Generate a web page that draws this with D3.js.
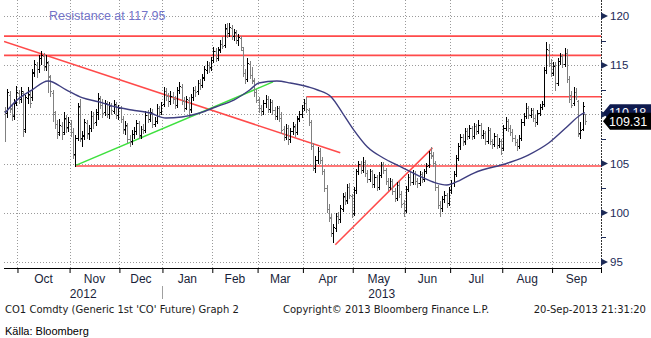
<!DOCTYPE html>
<html>
<head>
<meta charset="utf-8">
<script src="https://cdn.jsdelivr.net/npm/d3@7"></script>
<style>
  html, body { margin: 0; padding: 0; background: #fff; }
  svg { display: block; }
  text { font-family: "Liberation Sans", Arial, sans-serif; }
  text.footer { font-family: "DejaVu Sans", Verdana, sans-serif; font-size: 10px; }
</style>
</head>
<body>
<svg id="chart" width="651" height="338"></svg>
<script>
// ---- Trading calendar (ICE Brent front month, CO1) ----
const firstDay = "2012-09-21";
const lastDay = "2013-09-20";
const holidays = ["2012-12-25", "2012-12-26", "2013-01-01", "2013-03-29"];

// ---- Daily OHLC, one value per trading day ----
const opens = [
  110.3,110.1,112.0,110.6,109.8,111.2,112.2,111.6,112.2,108.5,
  111.7,112.0,111.8,114.3,115.0,114.6,115.7,115.9,114.9,115.2,
  113.8,112.2,110.0,109.0,108.2,108.8,108.2,109.5,108.7,109.0,
  108.2,106.0,107.6,110.8,107.6,107.9,109.1,108.1,108.6,109.8,
  109.2,110.0,111.6,111.0,110.2,111.1,110.0,110.9,110.3,111.0,
  109.9,110.6,109.5,108.5,108.8,107.5,107.3,108.0,108.3,109.1,
  107.9,108.5,108.4,109.9,109.5,110.1,109.0,109.3,110.6,110.2,
  111.1,112.4,111.9,111.4,111.9,111.6,111.0,112.5,112.8,111.4,
  110.7,111.5,110.5,111.8,112.5,112.4,113.2,113.0,113.7,114.5,
  115.0,114.8,115.5,116.4,115.7,116.5,117.2,117.1,118.7,118.3,
  118.8,118.0,118.3,117.6,117.8,116.5,114.2,113.6,115.1,114.0,
  113.4,112.3,111.5,110.6,110.3,111.2,111.6,110.5,111.3,110.4,
  109.8,110.6,109.6,108.5,107.7,108.6,107.5,108.3,108.7,108.2,
  109.6,110.0,110.7,111.2,110.4,109.2,106.8,104.6,105.4,106.3,
  105.4,104.2,102.5,100.4,99.6,97.9,98.5,99.7,99.4,100.4,
  101.6,101.3,102.6,101.7,100.0,102.3,104.2,105.0,104.3,105.2,
  104.0,103.4,104.2,102.9,103.6,102.6,103.8,104.9,104.3,103.2,
  102.6,103.2,102.2,101.5,102.8,101.9,101.0,100.3,102.4,103.6,
  103.1,104.0,103.2,103.0,103.9,103.4,104.2,104.9,106.1,105.8,
  105.1,102.6,100.8,100.5,101.4,101.8,101.0,102.3,103.0,103.9,
  105.6,106.8,107.7,107.3,108.3,107.8,108.6,107.8,108.8,108.3,
  108.9,107.9,108.1,107.3,108.4,107.3,107.0,107.8,106.9,107.3,
  106.6,108.6,109.3,108.6,108.2,107.6,107.2,106.8,107.6,109.2,
  109.8,110.6,109.9,110.4,109.6,109.2,110.1,110.8,111.1,114.5,
  116.5,115.2,114.2,115.0,113.2,115.4,115.9,115.1,116.2,113.6,
  112.0,111.2,112.3,111.4,108.1,108.5,110.0
];
const highs = [
  110.8,112.6,112.4,111.0,111.6,112.9,112.5,112.8,112.4,112.0,
  112.8,112.3,114.6,115.5,115.3,116.0,116.4,116.2,116.0,115.4,
  114.0,112.5,110.3,109.4,109.5,109.2,110.2,109.9,109.7,109.4,
  108.6,107.9,111.2,111.6,108.3,109.5,109.4,108.9,110.3,110.2,
  110.5,112.2,111.9,111.6,111.5,111.4,111.3,111.2,111.5,111.3,
  111.0,110.9,109.8,109.3,109.1,107.9,108.4,108.7,109.4,109.3,
  108.8,109.0,110.3,110.4,110.7,110.5,109.7,111.1,110.9,111.3,
  112.8,112.7,112.2,112.4,112.3,111.9,112.8,113.3,113.1,111.8,
  111.9,111.8,112.1,112.8,112.9,113.5,113.6,114.1,114.9,115.4,
  115.3,115.8,116.8,116.7,116.9,117.6,117.9,119.2,119.3,119.3,
  119.1,118.7,118.6,118.2,118.0,116.8,114.6,115.7,115.4,114.8,
  113.7,112.6,111.8,111.0,111.5,112.0,111.9,111.6,111.5,110.8,
  110.9,110.9,110.2,108.8,109.0,108.9,108.6,109.2,109.0,109.8,
  110.3,111.0,111.6,111.8,110.7,109.4,107.1,105.8,106.7,106.6,
  105.7,104.5,102.8,100.9,99.9,98.9,100.0,100.1,100.8,102.0,
  102.1,102.9,103.0,101.9,102.6,104.5,105.3,105.3,105.7,105.4,
  104.3,104.5,104.4,103.9,103.8,104.1,105.2,105.2,104.6,103.5,
  103.5,103.4,102.5,103.1,103.2,102.2,101.3,102.7,103.9,104.1,
  104.3,104.2,103.5,104.2,104.1,104.5,105.1,106.3,106.7,106.2,
  105.3,102.8,101.2,101.7,102.2,102.0,102.6,103.3,104.2,105.9,
  107.1,108.0,108.0,108.6,108.6,108.9,108.8,109.1,109.0,109.4,
  109.1,108.4,108.3,108.7,108.6,107.5,108.1,108.0,107.6,107.5,
  108.9,109.7,109.5,108.9,108.5,107.9,107.5,107.9,109.5,110.1,
  111.2,110.9,110.7,110.6,109.9,110.4,111.1,111.4,114.8,117.4,
  117.2,115.6,115.3,115.3,115.7,116.2,116.1,116.7,116.6,113.9,
  112.4,112.8,112.7,111.5,109.2,111.3,110.0
];
const lows = [
  107.3,109.7,110.2,109.4,109.5,111.0,111.2,111.3,107.8,108.2,
  111.2,110.8,111.5,113.9,113.8,114.3,115.1,114.5,114.5,112.3,
  111.9,109.3,108.6,107.6,107.9,107.5,108.0,108.2,108.3,107.8,
  105.6,104.8,107.4,107.3,106.8,107.5,107.6,107.5,108.3,108.6,
  108.9,109.5,110.6,109.7,109.9,109.7,109.6,110.0,110.1,109.6,
  109.5,109.2,108.1,108.0,107.2,106.8,107.0,107.6,108.0,107.6,
  107.6,108.1,108.2,109.2,109.3,108.7,108.8,109.1,109.8,110.0,
  110.9,111.5,110.9,111.1,111.2,110.6,110.8,112.2,111.1,110.3,
  110.5,109.7,110.2,111.5,111.9,112.1,112.6,112.8,113.5,114.2,
  114.3,114.5,115.3,115.4,115.5,116.3,116.7,116.9,117.9,118.0,
  117.7,117.6,117.3,117.1,116.5,113.9,113.2,113.4,113.7,113.2,
  111.9,111.3,110.2,109.9,110.0,110.8,110.2,110.2,110.0,109.5,
  109.5,109.3,108.1,107.4,107.5,107.0,107.2,108.0,107.8,108.0,
  109.3,109.7,110.4,110.2,108.9,106.5,104.3,104.1,105.1,105.1,
  103.9,102.2,100.1,99.2,97.6,97.0,98.2,99.0,99.1,100.2,
  100.9,101.0,101.5,99.6,99.8,102.0,103.9,104.0,104.1,103.7,
  103.1,103.2,102.6,102.6,102.3,102.4,103.6,104.0,102.9,102.3,
  102.4,101.9,101.2,101.3,101.6,100.6,99.7,100.1,102.2,102.8,
  102.9,102.9,102.6,102.8,103.1,103.2,104.0,104.7,105.6,104.8,
  102.3,100.5,99.7,100.2,101.1,100.6,100.8,102.0,102.7,103.7,
  105.4,106.5,106.9,107.0,107.5,107.6,107.5,107.6,108.0,108.1,
  107.6,107.6,107.0,107.1,107.0,106.6,106.8,106.6,106.7,106.0,
  106.4,108.4,108.3,107.9,107.3,106.9,106.4,106.6,107.4,108.9,
  109.6,109.6,109.7,109.3,108.8,109.0,109.9,110.5,110.9,114.2,
  114.9,113.9,114.0,112.5,113.0,115.1,114.8,114.9,113.3,111.3,
  110.8,111.0,111.6,107.8,107.6,108.4,109.0
];
const closes = [
  110.1,112.3,110.5,109.9,111.3,112.3,111.6,112.4,108.3,111.8,
  112.1,111.2,114.2,115.1,114.6,115.7,116.0,114.8,115.3,113.9,
  112.4,110.2,109.0,108.0,108.9,108.0,109.6,108.6,109.2,108.2,
  105.9,107.6,110.9,107.5,107.8,109.2,108.0,108.6,109.8,109.1,
  110.2,111.7,111.0,110.1,111.2,110.0,110.9,110.4,111.1,109.9,
  110.7,109.5,108.4,108.9,107.5,107.2,108.0,108.3,109.1,107.8,
  108.5,108.4,109.9,109.5,110.2,109.0,109.3,110.6,110.2,111.0,
  112.4,111.9,111.4,111.9,111.6,111.0,112.5,112.9,111.4,110.7,
  111.6,110.4,111.8,112.5,112.3,113.2,113.0,113.8,114.6,115.0,
  114.7,115.5,116.4,115.7,116.6,117.2,117.0,118.8,118.3,118.9,
  118.0,118.4,117.6,117.9,116.8,114.2,113.6,115.2,114.0,113.5,
  112.3,111.5,110.6,110.3,111.2,111.6,110.5,111.3,110.4,109.8,
  110.6,109.6,108.4,107.7,108.6,107.5,108.3,108.8,108.2,109.5,
  110.0,110.7,111.2,110.5,109.2,106.8,104.6,105.4,106.3,105.4,
  104.2,102.5,100.4,99.5,97.9,98.6,99.7,99.4,100.5,101.7,
  101.2,102.6,101.8,99.9,102.3,104.2,105.0,104.3,105.2,104.0,
  103.4,104.2,102.9,103.6,102.6,103.8,104.9,104.3,103.2,102.6,
  103.2,102.2,101.5,102.8,101.9,100.9,100.2,102.4,103.6,103.1,
  104.0,103.2,103.0,103.9,103.4,104.2,104.8,106.1,105.9,105.1,
  102.6,100.8,100.5,101.4,101.8,101.0,102.3,103.0,103.9,105.6,
  106.8,107.7,107.2,108.3,107.8,108.6,107.8,108.8,108.3,108.9,
  107.9,108.1,107.3,108.4,107.3,107.0,107.8,106.9,107.3,106.6,
  108.6,109.3,108.6,108.2,107.6,107.2,106.8,107.6,109.2,109.8,
  110.6,109.9,110.4,109.6,109.2,110.1,110.8,111.1,114.5,116.6,
  115.2,114.2,114.9,113.2,115.4,115.9,115.1,116.2,113.6,111.6,
  111.0,112.3,111.9,108.0,108.4,110.9,109.31
];

// ---- Moving average, sampled ----
const maDates = [
  "2012-09-21","2012-09-28","2012-10-09","2012-10-18","2012-10-30","2012-11-08",
  "2012-11-20","2012-11-29","2012-12-10","2012-12-20","2013-01-03","2013-01-14",
  "2013-01-24","2013-02-04","2013-02-14","2013-02-25","2013-03-01","2013-03-13",
  "2013-03-21","2013-04-03","2013-04-09","2013-04-17","2013-04-24","2013-05-01",
  "2013-05-09","2013-05-20","2013-05-30","2013-06-10","2013-06-19","2013-06-27",
  "2013-07-05","2013-07-15","2013-08-05","2013-08-16","2013-08-29","2013-09-10",
  "2013-09-18","2013-09-20"
];
const maValues = [
  110.14,111.4,112.5,113.4,112.5,111.7,
  111.25,110.75,110.45,110.14,109.63,109.74,
  110.14,110.75,111.46,112.48,113.19,113.4,
  113.19,112.78,112.48,111.77,110.14,108.41,
  106.69,105.57,104.65,103.84,103.13,102.82,
  103.33,104.04,105.06,105.87,107.09,108.72,
  109.94,110.18
];

// ---- Drawn support / resistance ----
const levelValues = [117.95, 116.0, 111.8, 104.75];
const levelFrom   = [null, null, "2013-04-02", "2012-11-05"];
const trendColors = ["#ff4a4a", "#3ee03e", "#ff4a4a"];
// trading-day position and price at each end
const trendFromPos = [-0.45, 31.5, 145.8];
const trendFromVal = [117.4, 104.85, 96.75];
const trendToPos   = [148, 118.3, 188.7];
const trendToVal   = [106.1, 113.3, 106.6];

const yMajor = [95, 100, 105, 110, 115, 120];
const yMinor = [97.5, 102.5, 107.5, 112.5, 117.5];
const resistanceLabel = "Resistance at 117.95";
const maLast = 110.18;
const footerLeft = "CO1 Comdty (Generic 1st 'CO' Future) Graph 2";
const footerMid = "Copyright\u00a9 2013 Bloomberg Finance L.P.";
const footerRight = "20-Sep-2013 21:31:20";
const sourceNote = "K\u00e4lla: Bloomberg";

// ---- Build ----
const parse = d3.timeParse("%Y-%m-%d");
const fmt = d3.timeFormat("%Y-%m-%d");
const holidaySet = new Set(holidays);
const days = d3.timeDay.range(parse(firstDay), d3.timeDay.offset(parse(lastDay), 1))
  .filter(d => d.getDay() !== 0 && d.getDay() !== 6 && !holidaySet.has(fmt(d)));
const dayIndex = new Map(days.map((d, i) => [fmt(d), i]));

const bars = days.map((d, i) => ({
  date: d, i, o: opens[i], h: highs[i], l: lows[i], c: closes[i]
}));

const W = 651, H = 338;
const plot = { left: 4, right: 601, top: 0, bottom: 268 };

const x = d3.scaleLinear()
  .domain([-0.45, days.length - 1 + 7.1])
  .range([plot.left, plot.right]);
const y = d3.scaleLinear().domain([95, 120]).range([262, 16]);

const svg = d3.select("#chart");
svg.append("rect").attr("width", W).attr("height", H).attr("fill", "#fff");

svg.append("defs").append("clipPath").attr("id", "plotClip")
  .append("rect")
  .attr("x", plot.left).attr("y", plot.top)
  .attr("width", plot.right - plot.left).attr("height", plot.bottom - plot.top);

const crisp = v => Math.round(v) + 0.5;

// month boundaries (position halfway between last and first trading day)
const monthStarts = [];
for (let i = 1; i < days.length; i++) {
  if (days[i].getMonth() !== days[i - 1].getMonth()) monthStarts.push(i);
}
const boundaryPos = monthStarts.map(i => i - 0.5);

// ---- grid ----
const grid = svg.append("g").attr("stroke", "#9a9a9a").attr("stroke-width", 1)
  .attr("stroke-dasharray", "1,2");
grid.selectAll("line.h").data(yMajor).join("line")
  .attr("x1", plot.left).attr("x2", plot.right)
  .attr("y1", d => crisp(y(d))).attr("y2", d => crisp(y(d)));
grid.selectAll("line.v").data(boundaryPos).join("line")
  .attr("y1", plot.top).attr("y2", plot.bottom)
  .attr("x1", d => crisp(x(d))).attr("x2", d => crisp(x(d)));

const plotG = svg.append("g").attr("clip-path", "url(#plotClip)");

// ---- horizontal levels ----
plotG.append("g").selectAll("line").data(levelValues).join("line")
  .attr("x1", (d, k) => levelFrom[k] ? x(dayIndex.get(levelFrom[k])) : plot.left)
  .attr("x2", plot.right)
  .attr("y1", d => y(d)).attr("y2", d => y(d))
  .attr("stroke", "#ff4a4a").attr("stroke-width", 1.6);

// ---- trend lines ----
plotG.append("g").selectAll("line").data(trendFromPos).join("line")
  .attr("x1", (d, k) => x(trendFromPos[k])).attr("y1", (d, k) => y(trendFromVal[k]))
  .attr("x2", (d, k) => x(trendToPos[k])).attr("y2", (d, k) => y(trendToVal[k]))
  .attr("stroke", (d, k) => trendColors[k]).attr("stroke-width", 1.5);

// ---- OHLC bars ----
const barG = plotG.append("g").attr("stroke-width", 1).attr("shape-rendering", "crispEdges");
const barSel = barG.selectAll("g").data(bars).join("g")
  .attr("stroke", d => d.c >= d.o ? "#000" : "#808080");
barSel.append("line")
  .attr("x1", d => Math.round(x(d.i)) + 0.5).attr("x2", d => Math.round(x(d.i)) + 0.5)
  .attr("y1", d => Math.round(y(d.h))).attr("y2", d => Math.round(y(d.l)) + 1);
barSel.append("line")
  .attr("x1", d => Math.round(x(d.i)) - 1).attr("x2", d => Math.round(x(d.i)) + 1)
  .attr("y1", d => crisp(y(d.o))).attr("y2", d => crisp(y(d.o)));
barSel.append("line")
  .attr("x1", d => Math.round(x(d.i))).attr("x2", d => Math.round(x(d.i)) + 2)
  .attr("y1", d => crisp(y(d.c))).attr("y2", d => crisp(y(d.c)));

// ---- moving average ----
const maPts = maDates.map((d, k) => [dayIndex.get(d), maValues[k]]);
plotG.append("path")
  .datum(maPts)
  .attr("fill", "none").attr("stroke", "#3e3e80").attr("stroke-width", 1.4)
  .attr("d", d3.line().x(d => x(d[0])).y(d => y(d[1])).curve(d3.curveMonotoneX));

// ---- annotation ----
svg.append("text").attr("x", 49).attr("y", 19.5)
  .attr("font-size", 12.5).attr("fill", "#7474c8").text(resistanceLabel);

// ---- right axis ----
const yAxis = d3.axisRight(y).tickValues(yMajor).tickSize(0).tickPadding(9)
  .tickFormat(d3.format("d"));
const yAxisG = svg.append("g").attr("transform", `translate(${plot.right},0)`).call(yAxis);
yAxisG.select(".domain").remove();
yAxisG.selectAll("text").attr("font-size", 11.5).attr("fill", "#1c2a57")
  .attr("font-family", "'Liberation Sans', Arial, sans-serif");

svg.append("line")
  .attr("x1", plot.right + 0.5).attr("x2", plot.right + 0.5)
  .attr("y1", 0).attr("y2", plot.bottom)
  .attr("stroke", "#333").attr("stroke-width", 1).attr("stroke-dasharray", "2,1");
svg.append("g").selectAll("path").data(yMajor).join("path")
  .attr("d", d => {
    const yy = y(d);
    return `M${plot.right},${yy - 3.5}L${plot.right + 7},${yy}L${plot.right},${yy + 3.5}Z`;
  })
  .attr("fill", "#1c2a57");
svg.append("g").selectAll("line").data(yMinor).join("line")
  .attr("x1", plot.right).attr("x2", plot.right + 5)
  .attr("y1", d => crisp(y(d))).attr("y2", d => crisp(y(d)))
  .attr("stroke", "#1c2a57");

// ---- value tags: moving average behind, last price in front ----
function tag(value, fill) {
  const yy = y(value);
  const g = svg.append("g");
  g.append("path")
    .attr("d", `M${plot.right + 2},${yy}L${plot.right + 9},${yy - 8.5}L${W},${yy - 8.5}L${W},${yy + 8.5}L${plot.right + 9},${yy + 8.5}Z`)
    .attr("fill", fill);
  g.append("text").attr("x", plot.right + 8).attr("y", yy)
    .attr("dy", "0.36em").attr("font-size", 12.5).attr("fill", "#fff")
    .text(d3.format(".2f")(value));
}
tag(maLast, "#0e1a4e");
tag(closes[closes.length - 1], "#000");

// ---- bottom axis ----
const xAxis = d3.axisBottom(x).tickValues(boundaryPos.concat([x.domain()[1]]))
  .tickSize(5).tickFormat("");
const xAxisG = svg.append("g").attr("transform", `translate(0,${plot.bottom})`).call(xAxis);
xAxisG.select(".domain").attr("d", `M${plot.left},0.5H${plot.right + 1}`).attr("stroke", "#000");
xAxisG.selectAll(".tick line").attr("stroke", "#000");

const monthEdges = boundaryPos.map(p => x(p)).concat([plot.right]);
const monthFmt = d3.timeFormat("%b");
svg.append("g").selectAll("text").data(monthStarts).join("text")
  .attr("x", (d, k) => (monthEdges[k] + monthEdges[k + 1]) / 2)
  .attr("y", 283).attr("text-anchor", "middle")
  .attr("font-size", 12).attr("fill", "#1a1f3a")
  .text(d => monthFmt(days[d]));

// year labels, split at the first trading day of the new year
const yearSplit = monthStarts.find(i => days[i].getMonth() === 0);
const yearEdge = x(yearSplit - 0.5);
const yearFmt = d3.timeFormat("%Y");
svg.append("text").attr("x", (plot.left + yearEdge) / 2).attr("y", 298)
  .attr("text-anchor", "middle").attr("font-size", 12).attr("fill", "#1a1f3a")
  .text(yearFmt(days[0]));
svg.append("text").attr("x", (yearEdge + plot.right) / 2).attr("y", 298)
  .attr("text-anchor", "middle").attr("font-size", 12).attr("fill", "#1a1f3a")
  .text(yearFmt(days[days.length - 1]));
svg.append("line").attr("x1", crisp(yearEdge)).attr("x2", crisp(yearEdge))
  .attr("y1", 286).attr("y2", 299).attr("stroke", "#a0a0a0");

// ---- footer ----
svg.append("text").attr("class", "footer").attr("x", 5).attr("y", 313)
  .attr("fill", "#1a1a1a").text(footerLeft);
svg.append("text").attr("class", "footer").attr("x", 283).attr("y", 313)
  .attr("fill", "#1a1a1a").text(footerMid);
svg.append("text").attr("class", "footer").attr("x", 646).attr("y", 313)
  .attr("text-anchor", "end").attr("fill", "#1a1a1a").text(footerRight);
svg.append("text").attr("x", 5).attr("y", 335).attr("font-size", 11)
  .attr("fill", "#000").text(sourceNote);
</script>
</body>
</html>
